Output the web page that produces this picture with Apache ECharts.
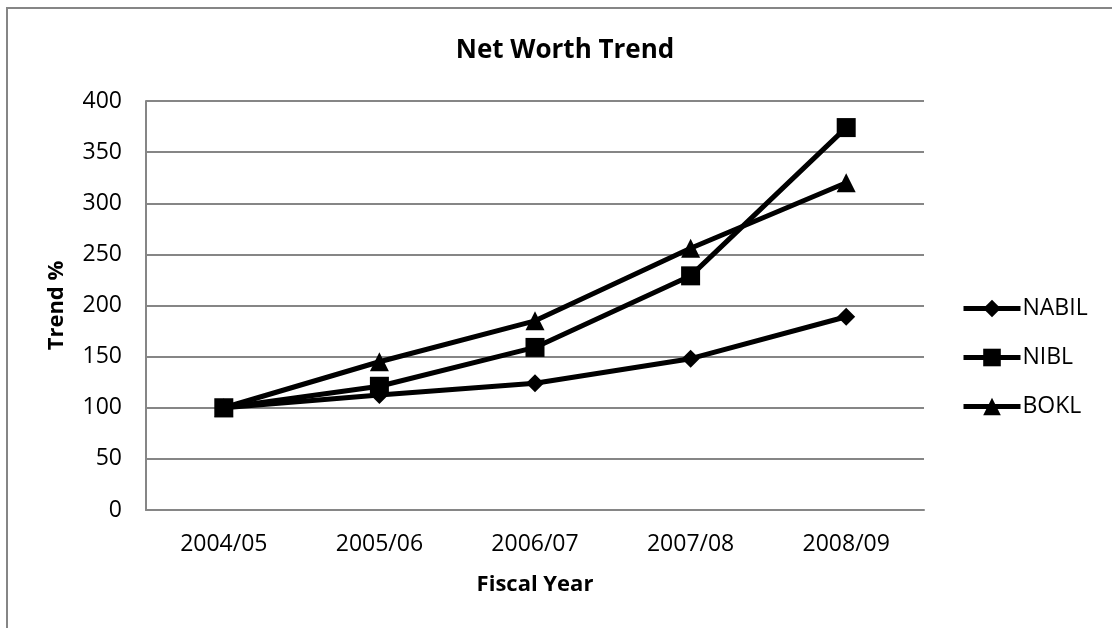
<!DOCTYPE html>
<html>
<head>
<meta charset="utf-8">
<title>Net Worth Trend</title>
<script src="https://cdn.jsdelivr.net/npm/echarts@6/dist/echarts.min.js"></script>
<style>
    html, body { margin: 0; padding: 0; background: #fff; }
    #chart { width: 1112px; height: 628px; }
</style>
</head>
<body>
<div id="chart"></div>
<script>
// 数据
let years = ['2004/05', '2005/06', '2006/07', '2007/08', '2008/09'];
let nabil = [100, 112.5, 124, 148, 189];
let nibl = [100, 121, 159, 229, 374];
let bokl = [100, 145, 185, 256, 320];

let font = 'Open Sans';

var myChart = echarts.init(document.getElementById('chart'));

function lineSeries(name, data, symbol, size, z) {
    return {
        name: name,
        type: 'line',
        data: data,
        symbol: symbol,
        symbolSize: size,
        z: z,
        lineStyle: { color: '#000', width: 5 },
        itemStyle: { color: '#000', borderWidth: 0 },
        emphasis: { disabled: true },
        animation: false
    };
}

let option = {
    backgroundColor: '#fff',
    textStyle: { fontFamily: font, color: '#000' },
    title: {
        text: 'Net Worth Trend',
        left: 560,
        textAlign: 'center',
        top: 33,
        textStyle: { fontFamily: font, fontSize: 26, fontWeight: 'bold', color: '#000' }
    },
    // 外框
    graphic: [{
        type: 'rect',
        shape: { x: 7, y: 8, width: 1300, height: 800 },
        style: { fill: 'none', stroke: '#868686', lineWidth: 2 },
        silent: true
    }],
    legend: {
        orient: 'vertical',
        left: 956,
        top: 292,
        itemWidth: 57,
        itemHeight: 22,
        itemGap: 26,
        lineStyle: { color: '#000', width: 5 },
        itemStyle: { color: '#000' },
        textStyle: { fontFamily: font, fontSize: 23, color: '#000', lineHeight: 22, padding: [0, 0, 0, -3] },
        data: ['NABIL', 'NIBL', 'BOKL']
    },
    grid: {
        left: 146,
        right: 188,
        top: 101,
        bottom: 118
    },
    xAxis: {
        type: 'category',
        data: years,
        name: 'Fiscal Year',
        nameLocation: 'middle',
        nameGap: 64,
        nameTextStyle: { fontFamily: font, fontSize: 22, fontWeight: 'bold', color: '#000' },
        axisLine: { lineStyle: { color: '#868686', width: 2 } },
        axisTick: { show: false },
        axisLabel: { color: '#000', fontFamily: font, fontSize: 23, margin: 23 }
    },
    yAxis: {
        type: 'value',
        min: 0,
        max: 400,
        interval: 50,
        name: 'Trend %',
        nameLocation: 'middle',
        nameGap: 78,
        nameTextStyle: { fontFamily: font, fontSize: 22, fontWeight: 'bold', color: '#000' },
        axisLine: { show: true, lineStyle: { color: '#868686', width: 2 } },
        axisTick: { show: false },
        axisLabel: { color: '#000', fontFamily: font, fontSize: 23, margin: 24 },
        splitLine: { lineStyle: { color: '#868686', width: 2 } }
    },
    series: [
        lineSeries('NABIL', nabil, 'diamond', 18, 2),
        lineSeries('BOKL', bokl, 'triangle', 19, 3),
        lineSeries('NIBL', nibl, 'rect', 19, 4)
    ]
};

myChart.setOption(option);
</script>
</body>
</html>
